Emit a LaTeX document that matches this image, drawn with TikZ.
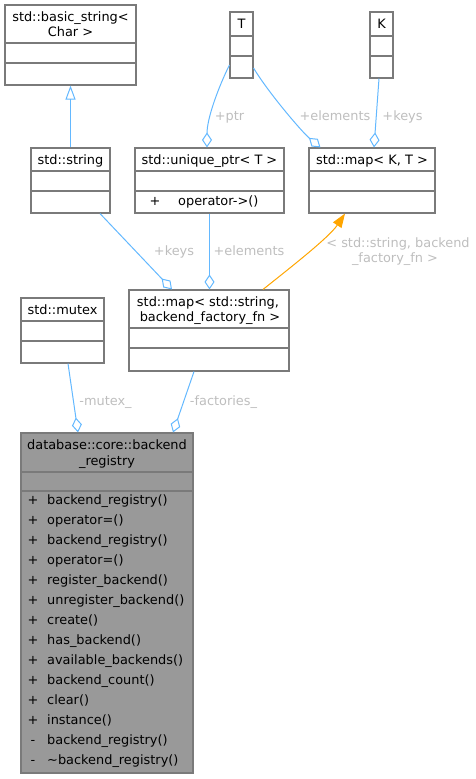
\documentclass[tikz,border=0pt]{standalone}
\usepackage{fontspec}
\setmainfont{DejaVu Sans}
\usetikzlibrary{arrows.meta}
\definecolor{edgeblue}{HTML}{63B8FF}
\definecolor{boxgray}{HTML}{7A7A7A}
\definecolor{lblgray}{HTML}{BEBEBE}
\definecolor{regfill}{HTML}{999999}
\definecolor{tmplorange}{HTML}{FFA500}
\tikzset{
  every node/.style={font=\fontsize{12.9}{15}\selectfont},
  txt/.style={inner sep=0pt, text height=9.4pt, text depth=0pt},
  lbl/.style={txt, text=lblgray},
  box/.style={draw=boxgray, line width=1.1pt, fill=white, inner sep=0pt},
  divider/.style={draw=boxgray, line width=1.1pt},
  assoc/.style={draw=edgeblue, line width=1pt, -{Diamond[open, length=15pt, width=10pt]}},
  inherit/.style={draw=edgeblue, line width=1pt, -{Triangle[open, length=14pt, width=10pt]}},
  tmpl/.style={draw=tmplorange, line width=1pt, -{Triangle[length=14pt, width=10pt]}, fill=none},
}
\begin{document}
\begin{tikzpicture}[x=1pt, y=-1pt]
\useasboundingbox (0,0) rectangle (475,779);

% std::basic_string< Char >
\node[box, minimum width=131pt, minimum height=80pt] (bs) at (70.5,45) {};
\draw[divider] (bs.west |- 0,43) -- (bs.east |- 0,43);
\draw[divider] (bs.west |- 0,63) -- (bs.east |- 0,63);
\node[txt] (bs-t1) at (70.5,17) {std::basic\_string<};
\node[txt] (bs-t2) at (70.5,32) {Char >};

% T
\node[box, minimum width=23pt, minimum height=66pt] (T) at (241.5,45) {};
\draw[divider] (T.west |- 0,36) -- (T.east |- 0,36);
\draw[divider] (T.west |- 0,56) -- (T.east |- 0,56);
\node[txt] (T-t) at (241.5,24) {T};

% K
\node[box, minimum width=23pt, minimum height=66pt] (K) at (381.5,45) {};
\draw[divider] (K.west |- 0,36) -- (K.east |- 0,36);
\draw[divider] (K.west |- 0,56) -- (K.east |- 0,56);
\node[txt] (K-t) at (381.5,24) {K};

% std::string
\node[box, minimum width=79pt, minimum height=65pt] (str) at (70.5,180.5) {};
\draw[divider] (str.west |- 0,171) -- (str.east |- 0,171);
\draw[divider] (str.west |- 0,191) -- (str.east |- 0,191);
\node[txt] (str-t) at (70.5,160) {std::string};

% std::unique_ptr< T >
\node[box, minimum width=149pt, minimum height=65pt] (up) at (209.5,180.5) {};
\draw[divider] (up.west |- 0,171) -- (up.east |- 0,171);
\draw[divider] (up.west |- 0,191) -- (up.east |- 0,191);
\node[txt] (up-t) at (209.5,160) {std::unique\_ptr< T >};
\node[txt] (up-ms) at (155,201) {+};
\node[txt, anchor=west] (up-m) at (178,201) {operator->()};

% std::map< K, T >
\node[box, minimum width=126pt, minimum height=65pt] (mkt) at (372,180.5) {};
\draw[divider] (mkt.west |- 0,171) -- (mkt.east |- 0,171);
\draw[divider] (mkt.west |- 0,191) -- (mkt.east |- 0,191);
\node[txt] (mkt-t) at (372,160) {std::map< K, T >};

% std::mutex
\node[box, minimum width=83pt, minimum height=65pt] (mutex) at (62.5,330.5) {};
\draw[divider] (mutex.west |- 0,321) -- (mutex.east |- 0,321);
\draw[divider] (mutex.west |- 0,341) -- (mutex.east |- 0,341);
\node[txt] (mutex-t) at (62.5,310) {std::mutex};

% std::map< std::string, backend_factory_fn >
\node[box, minimum width=160pt, minimum height=81pt] (msf) at (209,330.5) {};
\draw[divider] (msf.west |- 0,328) -- (msf.east |- 0,328);
\draw[divider] (msf.west |- 0,348) -- (msf.east |- 0,348);
\node[txt] (msf-t1) at (208,302) {std::map< std::string,};
\node[txt] (msf-t2) at (210,317) {backend\_factory\_fn >};

% database::core::backend_registry
\node[box, fill=regfill, minimum width=172pt, minimum height=340pt] (reg) at (107,603) {};
\draw[divider] (reg.west |- 0,472) -- (reg.east |- 0,472);
\draw[divider] (reg.west |- 0,491) -- (reg.east |- 0,491);
\node[txt] (reg-t1) at (107,445) {database::core::backend};
\node[txt] (reg-t2) at (107,461) {\_registry};
\foreach \s/\t [count=\i from 0] in {
  +/backend\_registry(), +/operator=(), +/backend\_registry(), +/operator=(),
  +/register\_backend(), +/unregister\_backend(), +/create(), +/has\_backend(),
  +/available\_backends(), +/backend\_count(), +/clear(), +/instance(),
  -/backend\_registry(), -/\textasciitilde backend\_registry()} {
  \node[txt] (reg-s\i) at (33,{500+20*\i}) {\s};
  \node[txt, anchor=west] (reg-m\i) at (47,{500+20*\i}) {\t};
}

% connectors
\draw[inherit] (str.north) -- (bs.south);
\draw[assoc] ([yshift=-20pt]T.west) .. controls +(-10,20) and +(0,-30) .. ([xshift=-2.5pt]up.north);
\draw[assoc] ([yshift=-23pt]T.east) .. controls +(15,25) and +(-18,-15) .. ([xshift=12pt]mkt.north west);
\draw[assoc] ([xshift=-2.5pt]K.south) -- ([xshift=2pt]mkt.north);
\draw[assoc] ([xshift=29.5pt]str.south) -- ([xshift=-37pt]msf.north);
\draw[assoc] (up.south) -- (up.south |- msf.north);
\draw[tmpl] ([xshift=54pt]msf.north) .. controls +(25,-20) and +(-16,24) .. ([xshift=-27pt]mkt.south);
\draw[assoc] ([xshift=5.5pt]mutex.south) -- ([xshift=-29pt]reg.north);
\draw[assoc] ([xshift=-15pt]msf.south) -- ([xshift=66pt]reg.north);

% labels
\node[lbl] (l-ptr) at (229.5,116) {+ptr};
\node[lbl] (l-el1) at (335,116) {+elements};
\node[lbl] (l-k1) at (402.5,116) {+keys};
\node[lbl] (l-k2) at (174,251) {+keys};
\node[lbl] (l-el2) at (249,251) {+elements};
\node[lbl] (l-tp1) at (398,243) {< std::string, backend};
\node[lbl] (l-tp2) at (395,258) {\_factory\_fn >};
\node[lbl] (l-mx) at (105.5,401) {-mutex\_};
\node[lbl] (l-fac) at (223.5,401) {-factories\_};
\end{tikzpicture}
\end{document}
